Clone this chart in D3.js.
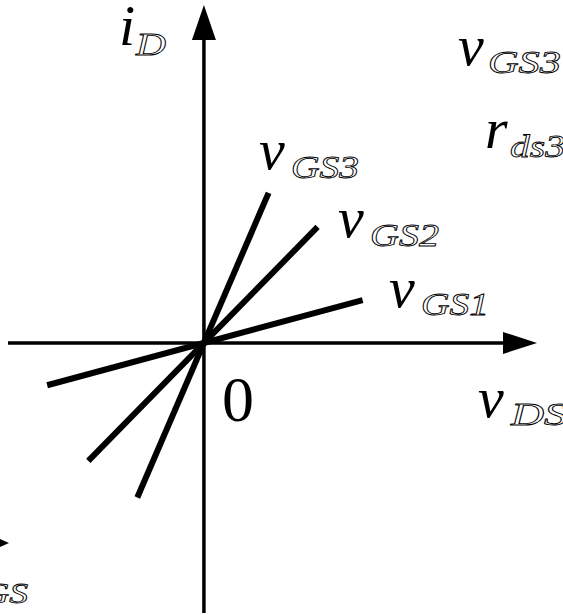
<!DOCTYPE html>
<html>
<head>
<meta charset="utf-8">
<script src="https://cdn.jsdelivr.net/npm/d3@7"></script>
<style>
  html, body { margin: 0; padding: 0; background: #fff; }
  svg { display: block; }
  .main { font-family: "Liberation Serif", "Times New Roman", serif; font-style: italic; fill: #000; }
  .sub  { font-family: "Liberation Serif", "Times New Roman", serif; font-style: italic; fill: #fff; stroke: #000; stroke-width: 0.85px; }
  .num  { font-family: "Liberation Serif", "Times New Roman", serif; fill: #000; }
</style>
</head>
<body>
<svg id="chart" width="563" height="615"></svg>
<script>
// Linear i_D–v_DS characteristics (triode region near the origin), one line per gate voltage
const gateLabels   = ["GS1", "GS2", "GS3"];
const conductances = [0.27, 1.02, 2.32];   // slope of i_D vs v_DS (1 / r_ds)
const vdsStart     = [-0.80, -0.59, -0.34];
const vdsEnd       = [0.81, 0.58, 0.33];

// Axis extents and origin label
const vdsDomain = [-1.0, 1.7];
const idDomain  = [-1.378, 1.724];
const originLabel = "0";

const svg = d3.select("#chart");

const x = d3.scaleLinear().domain(vdsDomain).range([8, 537]);
const y = d3.scaleLinear().domain(idDomain).range([613, 5]);

const x0 = x(0), y0 = y(0);

// Axes
svg.append("line")
  .attr("x1", x(vdsDomain[0])).attr("y1", y0)
  .attr("x2", x(vdsDomain[1]) - 30).attr("y2", y0)
  .attr("stroke", "#000").attr("stroke-width", 3.5);
svg.append("path")
  .attr("d", `M${x(vdsDomain[1])},${y0} L${x(vdsDomain[1]) - 34},${y0 - 11} L${x(vdsDomain[1]) - 34},${y0 + 11} Z`)
  .attr("fill", "#000");

svg.append("line")
  .attr("x1", x0).attr("y1", y(idDomain[0]))
  .attr("x2", x0).attr("y2", y(idDomain[1]) + 30)
  .attr("stroke", "#000").attr("stroke-width", 3.5);
svg.append("path")
  .attr("d", `M${x0},${y(idDomain[1])} L${x0 - 12},${y(idDomain[1]) + 35} L${x0 + 12},${y(idDomain[1]) + 35} Z`)
  .attr("fill", "#000");

// Characteristic lines
const lines = gateLabels.map((g, i) => ({
  label: g,
  pts: [[vdsStart[i], conductances[i] * vdsStart[i]], [vdsEnd[i], conductances[i] * vdsEnd[i]]]
}));
const lineGen = d3.line().x(d => x(d[0])).y(d => y(d[1]));
svg.selectAll("path.curve").data(lines).join("path")
  .attr("class", "curve")
  .attr("d", d => lineGen(d.pts))
  .attr("fill", "none").attr("stroke", "#000")
  .attr("stroke-width", 6).attr("stroke-linecap", "butt");

// Symbol with subscript: main glyph + stretched outlined subscript
function symbol(main, sub, mx, my, sx, sy, subLen, mainSize = 58, subSize = 32) {
  svg.append("text").attr("class", "main")
    .attr("x", mx).attr("y", my).attr("font-size", mainSize).text(main);
  svg.append("text").attr("class", "sub")
    .attr("x", sx).attr("y", sy).attr("font-size", subSize)
    .attr("textLength", subLen).attr("lengthAdjust", "spacingAndGlyphs").text(sub);
}

// Axis titles
symbol("i", "D", 119, 45, 136, 55, 30);
symbol("v", "DS", 478, 417, 511, 425, 56);

// Curve labels
const labelPos = [
  { mx: 389, my: 307, sx: 421, sy: 315, len: 68 },
  { mx: 338, my: 237, sx: 370, sy: 246, len: 69 },
  { mx: 259, my: 169, sx: 291, sy: 178, len: 68 }
];
lines.forEach((d, i) => {
  const p = labelPos[i];
  symbol("v", d.label, p.mx, p.my, p.sx, p.sy, p.len);
});

// Annotation at upper right
symbol("v", "GS3", 458, 65, 488, 73, 73);
symbol("r", "ds3", 485, 148, 510, 157, 55);

// Origin label
svg.append("text").attr("class", "num")
  .attr("x", 222).attr("y", 421).attr("font-size", 64).text(originLabel);

// Partial arrow and label at lower left edge
svg.append("path").attr("d", "M-2,538 L9,543 L-2,548 Z").attr("fill", "#000");
svg.append("text").attr("class", "sub")
  .attr("x", -18).attr("y", 603).attr("font-size", 29)
  .attr("textLength", 46).attr("lengthAdjust", "spacingAndGlyphs").text("GS");
</script>
</body>
</html>
